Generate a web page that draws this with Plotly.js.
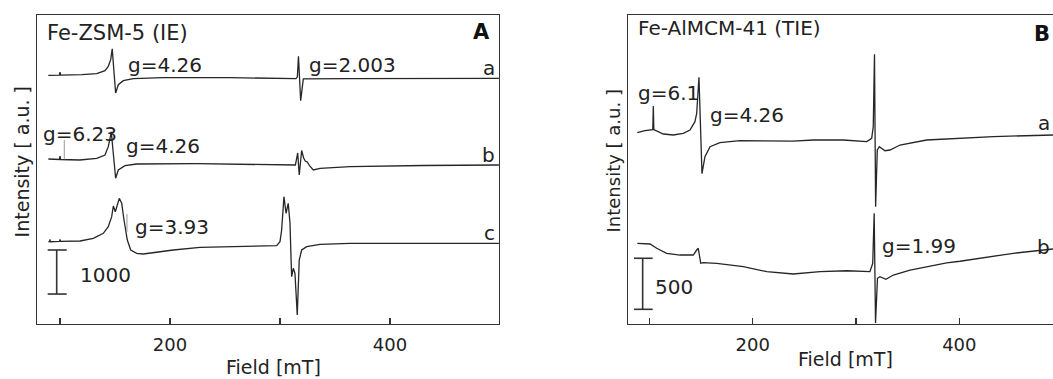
<!DOCTYPE html>
<html>
<head>
<meta charset="utf-8">
<script src="https://cdn.plot.ly/plotly-3.0.1.min.js"></script>
<style>
  html, body { margin: 0; padding: 0; background: #fff; overflow: hidden; }
  #chart { width: 1053px; height: 379px; }
</style>
</head>
<body>
<div id="chart"></div>
<script>
// ---------- Panel A : Fe-ZSM-5 (IE) ----------
const fieldA_a = [89.4, 99.5, 100, 100.6, 120, 133.4, 140.9, 143.9, 146.1, 147.5, 149, 150.6, 153, 157.5, 166.6, 193.9, 254.5, 300, 314.5, 315.8, 316.8, 318.8, 321.2, 360, 420, 499];
const intA_a   = [5644, 5648, 5717, 5648, 5660, 5682, 5751, 5849, 6001, 6244, 5750, 5244, 5432, 5523, 5569, 5592, 5592, 5576, 5570, 5610, 6076, 5069, 5562, 5570, 5575, 5576];

const fieldA_b = [89.4, 99.5, 100, 100.6, 118, 133.4, 140.9, 143.9, 145.5, 146.6, 150.6, 153, 159.1, 169.7, 224.3, 280, 314, 316.1, 317.5, 319.7, 321.5, 323, 324.8, 327, 330.3, 336.4, 363.6, 430, 499];
const intA_b   = [3745, 3734, 3814, 3734, 3723, 3761, 3836, 4025, 4215, 4365, 3307, 3496, 3593, 3632, 3639, 3621, 3609, 3882, 3382, 3938, 3768, 3700, 3677, 3587, 3496, 3534, 3571, 3598, 3609];

const fieldA_c = [89.4, 90.6, 90.9, 91.2, 99.6, 100, 100.4, 118.2, 130.3, 139.4, 143.9, 147, 148.5, 150.3, 153.9, 156.1, 158.2, 161.2, 164.3, 169.7, 175.7, 184.8, 203, 227.3, 270, 297, 300, 301.5, 303.6, 305.5, 307.5, 309.1, 310, 310.6, 312.1, 313.6, 315.7, 316.6, 317.5, 319.7, 324.3, 336.4, 363.6, 499];
const intA_c   = [1868, 1868, 1923, 1868, 1875, 1923, 1877, 1884, 1945, 2059, 2209, 2436, 2679, 2549, 2853, 2740, 2361, 1907, 1680, 1605, 1589, 1619, 1680, 1741, 1770, 1780, 1868, 2134, 2890, 2513, 2740, 2286, 1528, 1074, 1264, 1151, 204, 697, 1453, 1680, 1755, 1809, 1832, 1832];

// ---------- Panel B : Fe-AlMCM-41 (TIE) ----------
const fieldB_a = [88.3, 95.7, 103.3, 103.8, 104.3, 113.5, 123.1, 132.8, 139.3, 144.1, 145.8, 147.3, 148, 150.9, 153.8, 158.7, 168.3, 187.7, 207.1, 239, 258.7, 287.7, 310.4, 315.2, 316.7, 317.9, 319, 320.6, 322.6, 328.1, 332.9, 342.6, 368.4, 400.7, 432.9, 490.7];
const intB_a   = [1875, 1894, 1905, 2136, 1905, 1862, 1852, 1869, 1901, 1983, 2065, 2261, 2418, 1473, 1640, 1738, 1777, 1796, 1793, 1793, 1803, 1803, 1787, 1820, 1934, 2643, 1150, 1705, 1738, 1698, 1705, 1754, 1803, 1820, 1836, 1852];

const fieldB_b = [88.3, 100.6, 107.1, 116.7, 129.6, 142.5, 145.8, 147.3, 149.7, 152.2, 165.2, 190.9, 213.6, 239.3, 265.2, 291, 313.5, 316.2, 317.6, 318.9, 320.8, 323.2, 329, 336.1, 352.3, 368.4, 387.8, 400.7, 420, 452.3, 490.7];
const intB_b   = [791, 784, 742, 693, 676, 676, 725, 742, 595, 601, 595, 562, 513, 490, 513, 522, 513, 595, 1085, 10, 448, 464, 438, 480, 529, 562, 600, 615, 644, 693, 735];

// tick labels
const tickVals  = [100, 200, 300, 400];
const tickTexts = ['', '200', '', '400'];

// scale bars (a.u.)
const scaleA = 1000, scaleB = 500;

const FONT = 'DejaVu Sans, Arial, sans-serif';
const INK = '#222';
const LINE = '#262626';

function spec(x, y, xa, ya) {
  return {x: x, y: y, xaxis: xa, yaxis: ya, type: 'scatter', mode: 'lines',
          line: {color: LINE, width: 1.3}, hoverinfo: 'skip'};
}

const data = [
  spec(fieldA_a, intA_a, 'x', 'y'),
  spec(fieldA_b, intA_b, 'x', 'y'),
  spec(fieldA_c, intA_c, 'x', 'y'),
  spec(fieldB_a, intB_a, 'x2', 'y2'),
  spec(fieldB_b, intB_b, 'x2', 'y2')
];

const axisX = {
  showline: true, linecolor: '#333', linewidth: 1.2, mirror: true,
  ticks: 'inside', ticklen: 6, tickwidth: 1.2, tickcolor: '#333',
  tickvals: tickVals, ticktext: tickTexts,
  tickfont: {family: FONT, size: 18, color: INK},
  ticklabelstandoff: 4,
  showgrid: false, zeroline: false, fixedrange: true
};
const axisY = {
  showline: true, linecolor: '#333', linewidth: 1.2,
  ticks: '', showticklabels: false, showgrid: false, zeroline: false, fixedrange: true
};

const yDom = [55/379, 364/379];

function ann(text, x, y, xref, yref, opts) {
  return Object.assign({text: text, x: x, y: y, xref: xref, yref: yref,
    showarrow: false, xanchor: 'left', yanchor: 'middle',
    font: {family: FONT, size: 20, color: INK}}, opts || {});
}

const annotations = [
  // panel A
  ann('Fe-ZSM-5 (IE)', 45/1053, (379-32.7)/379, 'paper', 'paper', {font: {family: FONT, size: 21, color: INK}}),
  ann('<b>A</b>', 492/1053, (379-31.8)/379, 'paper', 'paper', {xanchor: 'right', font: {family: FONT, size: 21, color: '#111'}}),
  ann('g=4.26', 160, 5879, 'x', 'y'),
  ann('g=2.003', 324.5, 5879, 'x', 'y'),
  ann('g=6.23', 82.5, 4324, 'x', 'y'),
  ann('g=4.26', 158.2, 4041, 'x', 'y'),
  ann('g=3.93', 166.1, 2202, 'x', 'y'),
  ann('1000', 116.4, 1112, 'x', 'y'),
  ann('a', 497.3, 5800, 'x', 'y', {xanchor: 'right'}),
  ann('b', 497.3, 3836, 'x', 'y', {xanchor: 'right'}),
  ann('c', 497.3, 2077, 'x', 'y', {xanchor: 'right'}),
  ann('Field [mT]', 273/1053, (379-366.7)/379, 'paper', 'paper', {xanchor: 'center', font: {family: FONT, size: 19, color: INK}}),
  ann('Intensity [ a.u. ]', 21.7/1053, (379-161.7)/379, 'paper', 'paper', {xanchor: 'center', textangle: -90, font: {family: FONT, size: 19, color: INK}}),
  // panel B
  ann('Fe-AlMCM-41 (TIE)', 636/1053, (379-28)/379, 'paper', 'paper'),
  ann('<b>B</b>', 1052/1053, (379-34.3)/379, 'paper', 'paper', {xanchor: 'right', font: {family: FONT, size: 21, color: '#111'}}),
  ann('g=6.1', 87, 2259, 'x2', 'y2'),
  ann('g=4.26', 157, 2048, 'x2', 'y2'),
  ann('g=1.99', 323.2, 764, 'x2', 'y2'),
  ann('500', 103.8, 363, 'x2', 'y2'),
  ann('a', 1052/1053, (379-123)/379, 'paper', 'paper', {xanchor: 'right'}),
  ann('b', 1052/1053, (379-247.5)/379, 'paper', 'paper', {xanchor: 'right'}),
  ann('Field [mT]', 845.7/1053, (379-359.3)/379, 'paper', 'paper', {xanchor: 'center', font: {family: FONT, size: 19, color: INK}}),
  ann('Intensity [ a.u. ]', 613/1053, (379-161.5)/379, 'paper', 'paper', {xanchor: 'center', textangle: -90, font: {family: FONT, size: 18, color: INK}})
];

const barLine = {color: '#333', width: 1.6};
const ptrLine = {color: '#999', width: 1};
const baseA = 680, baseB = 144;
const shapes = [
  // scale bar A
  {type: 'line', xref: 'x', yref: 'y', x0: 97, x1: 97, y0: baseA, y1: baseA + scaleA, line: barLine},
  {type: 'line', xref: 'x', yref: 'y', x0: 88.8, x1: 106.1, y0: baseA, y1: baseA, line: barLine},
  {type: 'line', xref: 'x', yref: 'y', x0: 88.8, x1: 106.1, y0: baseA + scaleA, y1: baseA + scaleA, line: barLine},
  // scale bar B
  {type: 'line', xref: 'x2', yref: 'y2', x0: 93.5, x1: 93.5, y0: baseB, y1: baseB + scaleB, line: barLine},
  {type: 'line', xref: 'x2', yref: 'y2', x0: 85.1, x1: 103.2, y0: baseB, y1: baseB, line: barLine},
  {type: 'line', xref: 'x2', yref: 'y2', x0: 85.1, x1: 103.2, y0: baseB + scaleB, y1: baseB + scaleB, line: barLine},
  // pointer lines
  {type: 'line', xref: 'x', yref: 'y', x0: 103.9, x1: 103.9, y0: 3739, y1: 4177, line: ptrLine},
  {type: 'line', xref: 'x', yref: 'y', x0: 160.9, x1: 160.9, y0: 2089, y1: 2497, line: ptrLine}
];

const layout = {
  width: 1053, height: 379,
  margin: {l: 0, r: 0, t: 0, b: 0},
  paper_bgcolor: '#fff', plot_bgcolor: '#fff',
  showlegend: false,
  xaxis: Object.assign({}, axisX, {domain: [37/1053, 499/1053], range: [79.1, 499.1], anchor: 'y'}),
  yaxis: Object.assign({}, axisY, {domain: yDom, range: [0, 7014], anchor: 'x', mirror: true}),
  xaxis2: Object.assign({}, axisX, {domain: [628/1053, 1], range: [79.3, 490.7], anchor: 'y2'}),
  yaxis2: Object.assign({}, axisY, {domain: yDom, range: [0, 3028], anchor: 'x2', mirror: false}),
  annotations: annotations,
  shapes: shapes
};

Plotly.newPlot('chart', data, layout, {staticPlot: true, displayModeBar: false});
</script>
</body>
</html>
